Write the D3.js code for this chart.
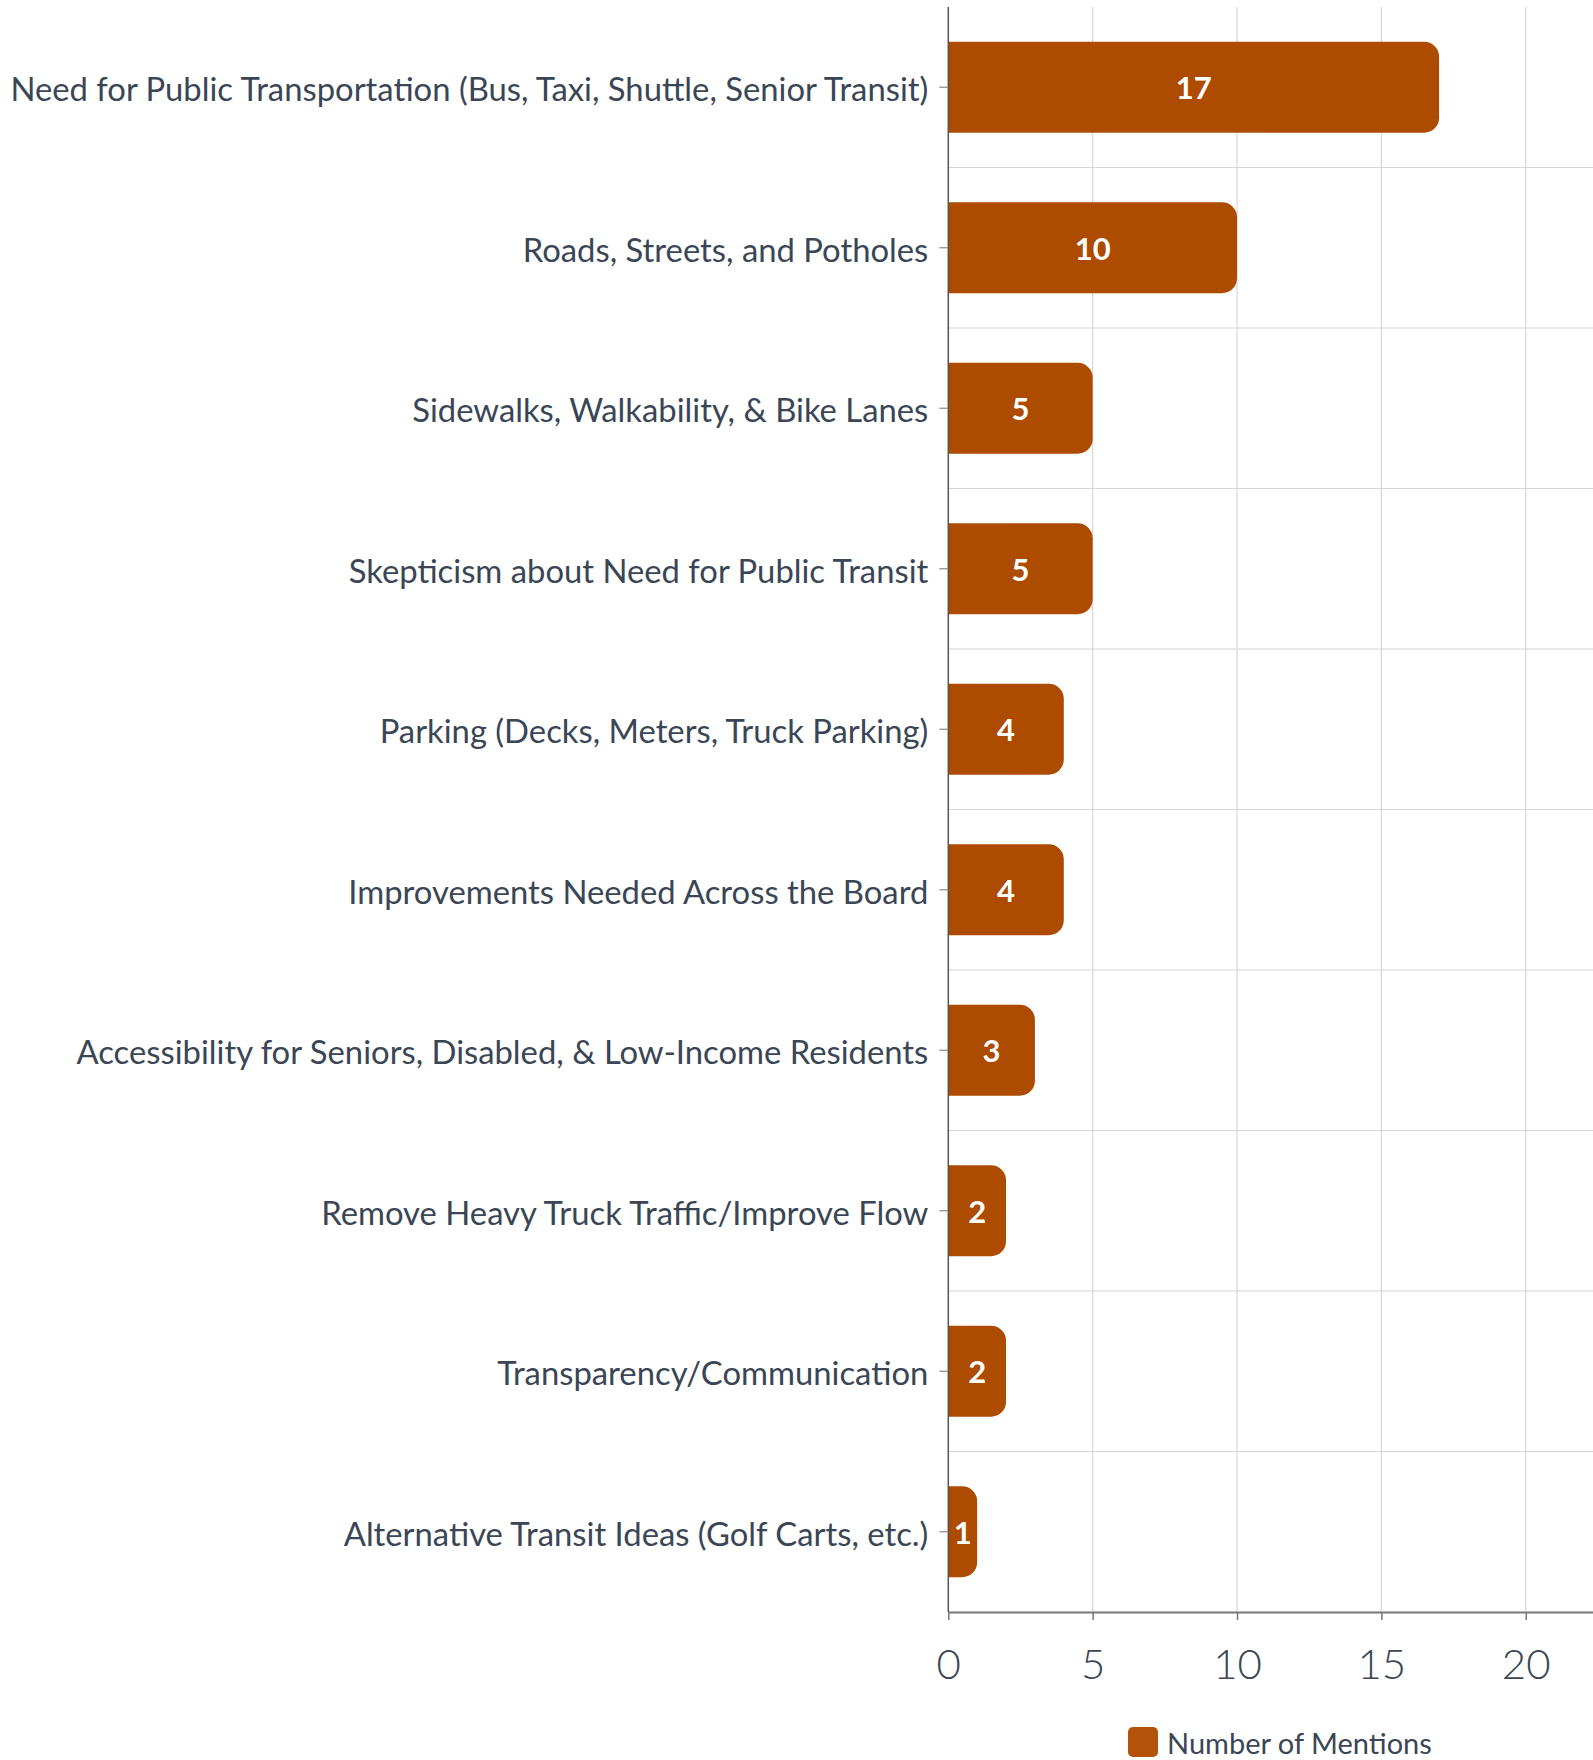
<!DOCTYPE html>
<html>
<head>
<meta charset="utf-8">
<script src="https://cdn.jsdelivr.net/npm/d3@7"></script>
<style>
  html, body { margin: 0; padding: 0; background: #ffffff; }
  svg { display: block; }
</style>
</head>
<body>
<svg id="chart" width="1593" height="1760"></svg>
<script>
const categories = [
  "Need for Public Transportation (Bus, Taxi, Shuttle, Senior Transit)",
  "Roads, Streets, and Potholes",
  "Sidewalks, Walkability, & Bike Lanes",
  "Skepticism about Need for Public Transit",
  "Parking (Decks, Meters, Truck Parking)",
  "Improvements Needed Across the Board",
  "Accessibility for Seniors, Disabled, & Low-Income Residents",
  "Remove Heavy Truck Traffic/Improve Flow",
  "Transparency/Communication",
  "Alternative Transit Ideas (Golf Carts, etc.)"
];
const values = [17, 10, 5, 5, 4, 4, 3, 2, 2, 1];
const xTicks = [0, 5, 10, 15, 20];
const seriesName = "Number of Mentions";

(function () {
const plotL = 948.3, plotR = 1593, plotT = 7, plotB = 1612;
const barColor = "#ad4b00";
const textColor = "#3a4655";
const font = "Lato, 'Open Sans', sans-serif";

const svg = d3.select("#chart");

const x = d3.scaleLinear().domain([0, 22.33]).range([plotL, plotR]);
const y = d3.scaleBand().domain(categories).range([plotT, plotB]).paddingInner(0.433).paddingOuter(0.2165);

// vertical gridlines
svg.append("g").selectAll("line").data(xTicks.filter(d => d > 0)).join("line")
  .attr("x1", d => x(d)).attr("x2", d => x(d))
  .attr("y1", plotT).attr("y2", plotB)
  .attr("stroke", "#d6d6d6").attr("stroke-width", 1.2);

// horizontal gridlines at band boundaries
const gap = y.step() - y.bandwidth();
svg.append("g").selectAll("line").data(categories.slice(1)).join("line")
  .attr("x1", plotL).attr("x2", plotR)
  .attr("y1", d => y(d) - gap / 2)
  .attr("y2", d => y(d) - gap / 2)
  .attr("stroke", "#d6d6d6").attr("stroke-width", 1.2);

// bars with rounded right corners
function barPath(x0, y0, w, h, r) {
  r = Math.min(r, w, h / 2);
  return `M${x0},${y0}H${x0 + w - r}A${r},${r} 0 0 1 ${x0 + w},${y0 + r}V${y0 + h - r}A${r},${r} 0 0 1 ${x0 + w - r},${y0 + h}H${x0}Z`;
}
svg.append("g").selectAll("path").data(categories).join("path")
  .attr("d", (d, i) => barPath(x(0), y(d), x(values[i]) - x(0), y.bandwidth(), 15))
  .attr("fill", barColor);

// bar value labels
svg.append("g").selectAll("text").data(categories).join("text")
  .attr("x", (d, i) => (x(0) + x(values[i])) / 2)
  .attr("y", d => y(d) + y.bandwidth() / 2)
  .attr("dy", "0.38em")
  .attr("text-anchor", "middle")
  .attr("fill", "#ffffff")
  .attr("font-family", font)
  .attr("font-weight", "bold")
  .attr("font-size", 31)
  .text((d, i) => values[i]);

// y axis
const yAxis = svg.append("g").attr("transform", `translate(${plotL},0)`)
  .call(d3.axisLeft(y).tickSize(9).tickPadding(11).tickSizeOuter(0));
yAxis.select(".domain").attr("stroke", "#555").attr("stroke-width", 1.5)
  .attr("d", `M0,${plotT}V${plotB}`);
yAxis.selectAll(".tick line").attr("stroke", "#888").attr("stroke-width", 1.2);
yAxis.selectAll(".tick text")
  .attr("fill", textColor)
  .attr("font-family", font)
  .attr("font-size", 32.8)
  .attr("dy", "0.42em");

// x axis
const xAxis = svg.append("g").attr("transform", `translate(0,${plotB})`)
  .call(d3.axisBottom(x).tickValues(xTicks).tickSize(8).tickPadding(29).tickSizeOuter(0));
xAxis.select(".domain").attr("stroke", "#777").attr("stroke-width", 2);
xAxis.selectAll(".tick line").attr("stroke", "#777").attr("stroke-width", 1.5);
xAxis.selectAll(".tick text")
  .attr("fill", textColor)
  .attr("font-family", font)
  .attr("font-weight", 300)
  .attr("font-size", 42);

// legend
const legend = svg.append("g").attr("transform", "translate(1128,1727)");
legend.append("rect").attr("width", 30).attr("height", 30).attr("rx", 5)
  .attr("fill", "#b4520a");
legend.append("text").attr("x", 39).attr("y", 15).attr("dy", "0.4em")
  .attr("fill", textColor)
  .attr("font-family", font)
  .attr("font-size", 29)
  .text(seriesName);
})();
</script>
</body>
</html>
